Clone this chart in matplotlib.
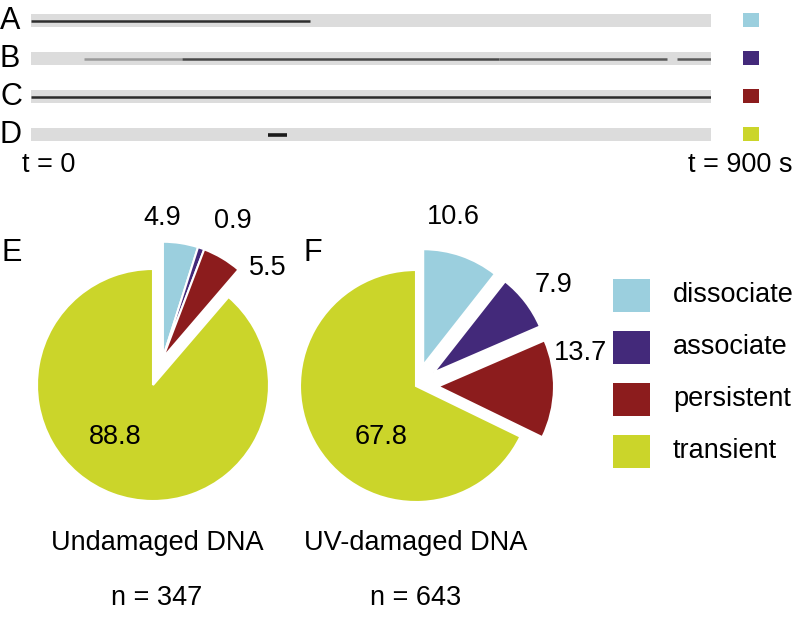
import numpy as np
import matplotlib
matplotlib.use("Agg")
import matplotlib.pyplot as plt
from matplotlib.patches import Rectangle

plt.rcParams['font.family'] = ['Liberation Sans', 'DejaVu Sans']

# categories and colours
cats = ['dissociate', 'associate', 'persistent', 'transient']
cols = ['#9bcfde', '#43297a', '#8c1c1d', '#cbd52a']

# percentages per population
undamaged = [4.9, 0.9, 5.5, 88.8]
uvdamaged = [10.6, 7.9, 13.7, 67.8]
n_undamaged = 347
n_uvdamaged = 643

# kymograph tracks (start s, end s, grey level) for example traces A-D
kymo_names = ['A', 'B', 'C', 'D']
kymo_tracks = [
    [(0, 369, '#2e2e2e')],
    [(70, 200, '#9a9a9a'), (200, 620, '#474747'), (620, 842, '#5a5a5a'), (855, 900, '#5a5a5a')],
    [(0, 900, '#2a2a2a')],
    [(314, 339, '#1a1a1a')],
]
t_end = 900

W, H = 796, 617
fig = plt.figure(figsize=(W / 100, H / 100), dpi=100)


def fy(py):
    return 1 - py / H


# kymograph strips
strip_y = [20, 58, 96, 134]
for i, name in enumerate(kymo_names):
    yc = strip_y[i]
    kax = fig.add_axes([31 / W, fy(yc + 7), 680 / W, 13 / H])
    kax.set_xlim(0, t_end)
    kax.set_ylim(0, 1)
    kax.set_facecolor('#dcdcdc')
    for s in kax.spines.values():
        s.set_visible(False)
    kax.set_xticks([])
    kax.set_yticks([])
    for (t0, t1, c) in kymo_tracks[i]:
        lw = 2.6 if name == 'D' else 1.8
        kax.hlines(0.5, t0, t1, color=c, lw=lw)
    fig.text(0, fy(yc + 1), name, fontsize=22, va='center', ha='left')
    fig.patches.append(Rectangle((743 / W, fy(yc + 7)), 16 / W, 14 / H,
                                 transform=fig.transFigure, color=cols[i], lw=0))

fig.text(22 / W, fy(165), 't = 0', fontsize=19.5, va='center', ha='left')
fig.text(792 / W, fy(165), 't = 900 s', fontsize=19.5, va='center', ha='right')

# pie charts in a pixel-coordinate axes
ax = fig.add_axes([0, 0, 1, 1])

r = 116
cE = (153, H - 385)
cF = (416, H - 386)

wE, _ = ax.pie(undamaged, colors=cols, startangle=90, counterclock=False,
               center=cE, radius=r, frame=True,
               wedgeprops=dict(edgecolor='white', linewidth=1.5))
# small slices pulled out together
ang = np.deg2rad(70)
d = 29
for w in wE[:3]:
    w.set_center((cE[0] + d * np.cos(ang), cE[1] + d * np.sin(ang)))

# explode is in data units (pixels here)
wF, _ = ax.pie(uvdamaged, colors=cols, startangle=90, counterclock=False,
               center=cF, radius=r, explode=[22, 22, 22, 0], frame=True,
               wedgeprops=dict(edgecolor='white', linewidth=1.5))
ax.set_xlim(0, W)
ax.set_ylim(0, H)
ax.set_aspect('auto')
ax.axis('off')

fs = 19.5
posE = [(162, 218), (233, 221), (268, 268), (115, 437)]
posF = [(453, 217), (553, 285), (580, 353), (381, 437)]
for v, (px, py) in zip(undamaged, posE):
    ax.text(px, H - py, f'{v}', fontsize=fs, ha='center', va='center')
for v, (px, py) in zip(uvdamaged, posF):
    ax.text(px, H - py, f'{v}', fontsize=fs, ha='center', va='center')

ax.text(2, H - 253, 'E', fontsize=22, ha='left', va='center')
ax.text(304, H - 253, 'F', fontsize=22, ha='left', va='center')

ax.text(157, H - 543, 'Undamaged DNA', fontsize=fs, ha='center', va='center')
ax.text(416, H - 543, 'UV-damaged DNA', fontsize=fs, ha='center', va='center')
ax.text(157, H - 598, f'n = {n_undamaged}', fontsize=fs, ha='center', va='center')
ax.text(416, H - 598, f'n = {n_uvdamaged}', fontsize=fs, ha='center', va='center')

# legend
leg_y = [295, 347, 399, 451]
for c, lab, yy in zip(cols, cats, leg_y):
    ax.add_patch(Rectangle((613, H - yy - 16.5), 37, 33, color=c, lw=0))
    ax.text(673, H - yy, lab, fontsize=fs, ha='left', va='center')

fig.savefig('out.png', dpi=100)
